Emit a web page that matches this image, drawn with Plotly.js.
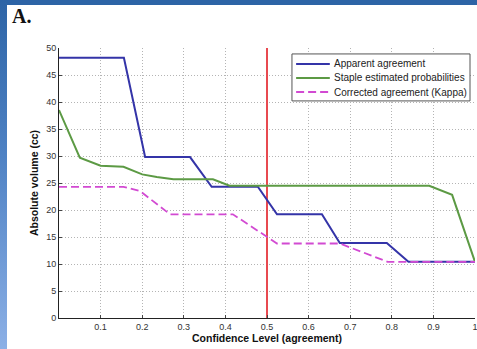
<!DOCTYPE html>
<html>
<head>
<meta charset="utf-8">
<script src="https://cdn.plot.ly/plotly-3.0.1.min.js"></script>
<style>
  html, body { margin: 0; padding: 0; background: #ffffff; }
  #frame { position: relative; width: 477px; height: 349px; overflow: hidden; background: #ffffff; }
  #topband { position: absolute; left: 0; top: 0; width: 477px; height: 5px; background: #2d64a6; }
  #leftband { position: absolute; left: 0; top: 0; width: 7px; height: 349px;
              background: linear-gradient(to bottom, #2d64a6 0%, #4f82c4 45%, #8cb0e6 100%); }
  #chart { position: absolute; left: 0; top: 0; width: 477px; height: 349px; }
</style>
</head>
<body>
<div id="frame">
  <div id="topband"></div>
  <div id="leftband"></div>
  <div id="chart"></div>
</div>
<script>
// Confidence level (agreement) breakpoints and volumes (cc) for each curve
const apparentX = [0, 0.156, 0.207, 0.315, 0.367, 0.478, 0.524, 0.632, 0.675, 0.788, 0.84, 1];
const apparentY = [48.2, 48.2, 29.8, 29.8, 24.3, 24.3, 19.2, 19.2, 13.9, 13.9, 10.4, 10.4];

const stapleX = [0, 0.05, 0.1, 0.155, 0.2, 0.235, 0.275, 0.37, 0.41, 0.89, 0.945, 1];
const stapleY = [38.5, 29.7, 28.2, 28.0, 26.6, 26.1, 25.7, 25.7, 24.5, 24.5, 22.8, 10.4];

const kappaX = [0, 0.155, 0.195, 0.267, 0.418, 0.524, 0.675, 0.79, 1];
const kappaY = [24.3, 24.3, 23.5, 19.2, 19.2, 13.8, 13.8, 10.4, 10.4];

const seriesNames = ['Apparent agreement', 'Staple estimated probabilities', 'Corrected agreement (Kappa)'];

// Chosen confidence threshold and the volume span it is drawn across
const thresholdX = [0.5, 0.5];
const thresholdY = [0, 50];

const xTicks = [0.1, 0.2, 0.3, 0.4, 0.5, 0.6, 0.7, 0.8, 0.9, 1];
const xTickText = ['0.1', '0.2', '0.3', '0.4', '0.5', '0.6', '0.7', '0.8', '0.9', '1'];
const yTicks = [0, 5, 10, 15, 20, 25, 30, 35, 40, 45, 50];

const lineStyles = [
  { color: '#3434a8', width: 2 },
  { color: '#5c9a44', width: 2 },
  { color: '#d24ad2', width: 1.8, dash: '8px,4px' }
];

const traces = [
  { x: thresholdX, y: thresholdY, mode: 'lines', hoverinfo: 'skip',
    line: { color: '#e84a50', width: 2 } },
  { x: apparentX, y: apparentY, name: seriesNames[0], mode: 'lines', line: lineStyles[0] },
  { x: stapleX, y: stapleY, name: seriesNames[1], mode: 'lines', line: lineStyles[1] },
  { x: kappaX, y: kappaY, name: seriesNames[2], mode: 'lines', line: lineStyles[2] }
];

const sans = 'Liberation Sans, Arial, sans-serif';
const tickFont = { family: sans, size: 9, color: '#333333' };
const titleFont = { family: sans, size: 10.5, color: '#111111', weight: 'bold' };

// Compact boxed legend inside the upper-right of the axes
const legendBox = { x0: 0.560, x1: 0.988, y0: 0.804, y1: 0.978 };
const legendRows = [0.941, 0.889, 0.837];
const legendSample = { x0: 0.570, x1: 0.651 };
const legendTextX = 0.656;

const shapes = [
  { type: 'rect', xref: 'paper', yref: 'paper',
    x0: legendBox.x0, x1: legendBox.x1, y0: legendBox.y0, y1: legendBox.y1,
    fillcolor: '#ffffff', line: { color: '#555555', width: 1 }, layer: 'above' }
];
const annotations = [
  { text: 'A.', xref: 'paper', yref: 'paper', x: -0.118, y: 1.1185,
    xanchor: 'left', yanchor: 'middle', showarrow: false,
    font: { family: 'Liberation Serif, Times New Roman, serif', size: 20, color: '#111111', weight: 'bold' } }
];
seriesNames.forEach((name, i) => {
  shapes.push({ type: 'line', xref: 'paper', yref: 'paper',
    x0: legendSample.x0, x1: legendSample.x1, y0: legendRows[i], y1: legendRows[i],
    line: lineStyles[i], layer: 'above' });
  annotations.push({ text: name, xref: 'paper', yref: 'paper', x: legendTextX, y: legendRows[i],
    xanchor: 'left', yanchor: 'middle', showarrow: false,
    font: { family: sans, size: 10, color: '#222222' } });
});

const layout = {
  width: 477, height: 349,
  margin: { l: 59, r: 2, t: 48, b: 31 },
  paper_bgcolor: 'rgba(0,0,0,0)',
  plot_bgcolor: '#ffffff',
  showlegend: false,
  xaxis: {
    range: [0, 1], tickvals: xTicks, ticktext: xTickText,
    showline: true, linecolor: '#222222', linewidth: 1, mirror: false,
    ticks: 'inside', ticklen: 3, tickcolor: '#444444',
    showgrid: true, gridcolor: '#b4b4b4', griddash: '1px,2px', gridwidth: 1,
    zeroline: false, tickfont: tickFont, ticklabeloverflow: 'allow',
    title: { text: 'Confidence Level (agreement)', font: titleFont, standoff: 3 }
  },
  yaxis: {
    range: [0, 50], tickvals: yTicks,
    showline: true, linecolor: '#222222', linewidth: 1, mirror: false,
    ticks: 'inside', ticklen: 3, tickcolor: '#444444',
    showgrid: true, gridcolor: '#b4b4b4', griddash: '1px,2px', gridwidth: 1,
    zeroline: false, tickfont: tickFont,
    title: { text: 'Absolute volume (cc)', font: titleFont, standoff: 5 }
  },
  shapes: shapes,
  annotations: annotations
};

Plotly.newPlot('chart', traces, layout, { displayModeBar: false, staticPlot: true });
</script>
</body>
</html>
